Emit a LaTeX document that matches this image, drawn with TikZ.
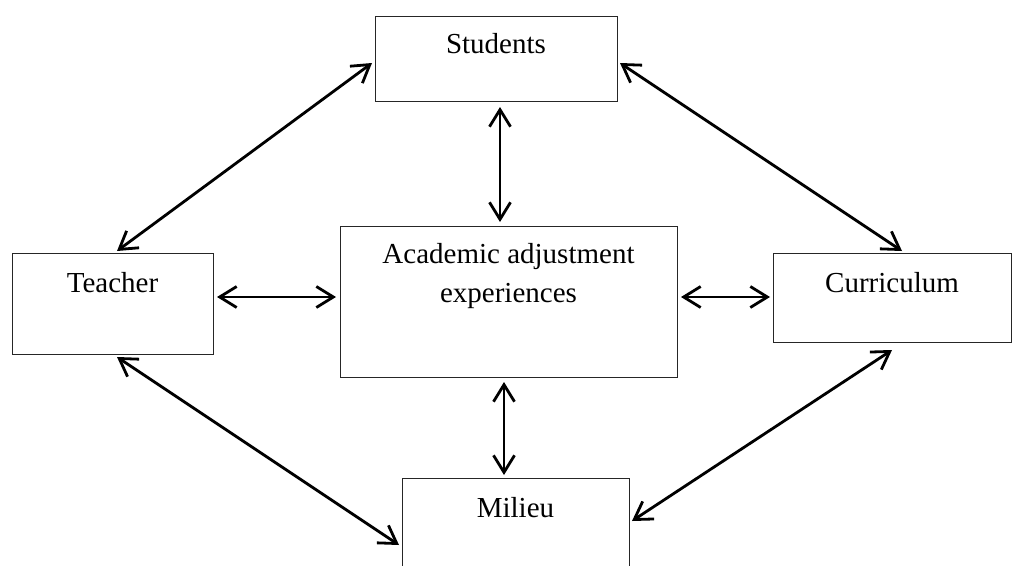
\documentclass[tikz,border=0pt]{standalone}
\usepackage{fontspec}
\setmainfont{Liberation Serif}
\usetikzlibrary{arrows.meta}
\begin{document}
\begin{tikzpicture}[x=1pt,y=-1pt,
  box/.style={draw=black!85,line width=0.9pt,inner sep=0pt,outer sep=0pt},
  lbl/.style={anchor=base,inner sep=0pt,font=\fontsize{29}{39}\selectfont},
  link/.style={line width=2.8pt,{Straight Barb[length=17pt,width=21pt,line width=2.8pt]}-{Straight Barb[length=17pt,width=21pt,line width=2.8pt]}}]
\clip (0,0) rectangle (1012,565);
\node[box,minimum width=242pt,minimum height=85pt] (s) at (496,58.5) {};
\node[box,minimum width=201pt,minimum height=101pt] (t) at (112.5,303.5) {};
\node[box,minimum width=337pt,minimum height=151pt] (a) at (508.5,301.5) {};
\node[box,minimum width=238pt,minimum height=89pt] (c) at (892,297.5) {};
\node[box,minimum width=227pt,minimum height=122pt] (m) at (515.5,539) {};
\node[lbl] (sl) at ([yshift=-37pt]s.north) {Students};
\node[lbl] (tl) at ([yshift=-39pt]t.north) {Teacher};
\node[lbl] (al1) at ([yshift=-37pt]a.north) {Academic adjustment};
\node[lbl] (al2) at ([yshift=-76pt]a.north) {experiences};
\node[lbl] (cl) at ([yshift=-39pt]c.north) {Curriculum};
\node[lbl] (ml) at ([yshift=-39pt]m.north) {Milieu};
\draw[link] ([xshift=-3pt,yshift=-4.5pt]s.west) -- ([xshift=4.5pt,yshift=2pt]t.north);
\draw[link] ([xshift=3pt,yshift=-4.5pt]s.east) -- ([xshift=10pt,yshift=2pt]c.north);
\draw[link] ([xshift=4pt,yshift=-6pt]s.south) -- ([xshift=-8.5pt,yshift=4pt]a.north);
\draw[link] ([xshift=4pt,yshift=6.5pt]t.east) -- ([xshift=-4pt,yshift=4.5pt]a.west);
\draw[link] ([xshift=4pt,yshift=4.5pt]a.east) -- ([xshift=-3pt,yshift=0.5pt]c.west);
\draw[link] ([xshift=-4.5pt,yshift=-5pt]a.south) -- ([xshift=-11.5pt,yshift=3pt]m.north);
\draw[link] ([xshift=4.5pt,yshift=-3pt]t.south) -- ([xshift=-3pt,yshift=-6pt]m.west);
\draw[link] ([yshift=-8pt]c.south) -- ([xshift=3pt,yshift=18pt]m.east);
\end{tikzpicture}
\end{document}
